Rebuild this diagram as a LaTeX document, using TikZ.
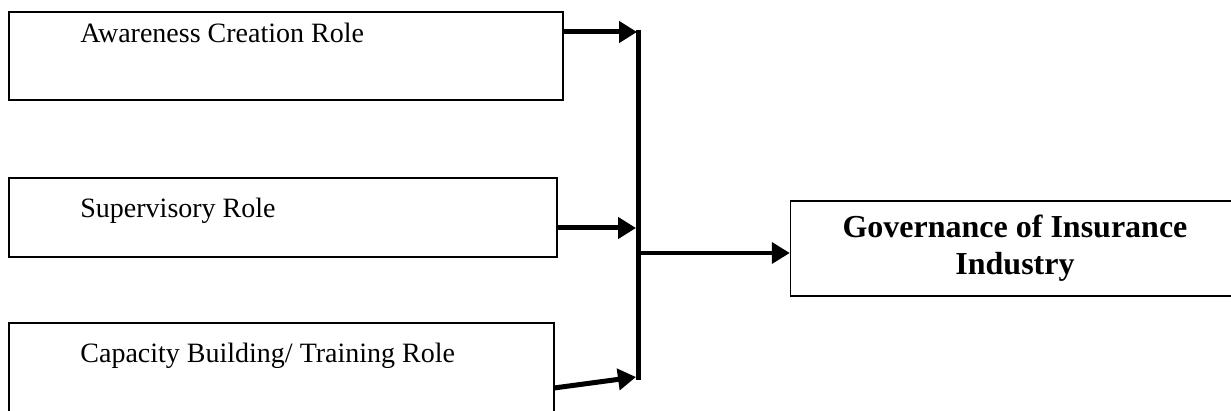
\documentclass[tikz,border=0pt]{standalone}
\usepackage{fontspec}
\setmainfont{Liberation Serif}
\usetikzlibrary{arrows.meta}
\tikzset{
  rolebox/.style={draw,line width=0.75pt,inner sep=0pt},
  rolelabel/.style={anchor=base west,inner sep=0pt,font=\fontsize{14}{16}\selectfont},
  feed/.style={line width=2.5pt,-{Triangle[length=9pt,width=10.5pt]}},
}
\begin{document}
\begin{tikzpicture}[x=0.5pt,y=-0.5pt]
\useasboundingbox (0,0) rectangle (1231,411);

\node[rolebox,minimum width=277pt,minimum height=44pt] (aware) at (286,56) {};
\node[rolebox,minimum width=274pt,minimum height=39.5pt] (super) at (283,217.5) {};
\node[rolebox,minimum width=272.5pt,minimum height=63.5pt] (capac) at (281.5,386.5) {};
\node[rolelabel] (awaretxt) at (80,43) {Awareness Creation Role};
\node[rolelabel] (supertxt) at (80,218) {Supervisory Role};
\node[rolelabel] (capactxt) at (80,362) {Capacity Building/ Training Role};

\node[rolebox,minimum width=224.5pt,minimum height=47.5pt,align=center,
  font=\fontsize{16}{18.5}\selectfont\bfseries] (gov) at (1015,248.5)
  {Governance of Insurance\\Industry};

\coordinate (j1) at (637,32);
\coordinate (j2) at (636,228);
\coordinate (j3) at (636,377);
\coordinate (s3) at (554,388);
\coordinate (bartop) at (638,30);
\coordinate (barbot) at (638,380);
\coordinate (mid) at (638,253);

\draw[feed] (aware.east |- j1) -- (j1);
\draw[feed] (super.east |- j2) -- (j2);
\draw[feed] (s3) -- (j3);
\draw[line width=2.5pt] (bartop) -- (barbot);
\draw[line width=2pt,-{Triangle[length=9pt,width=10.5pt]}] (mid) -- (gov.west |- mid);
\end{tikzpicture}
\end{document}
